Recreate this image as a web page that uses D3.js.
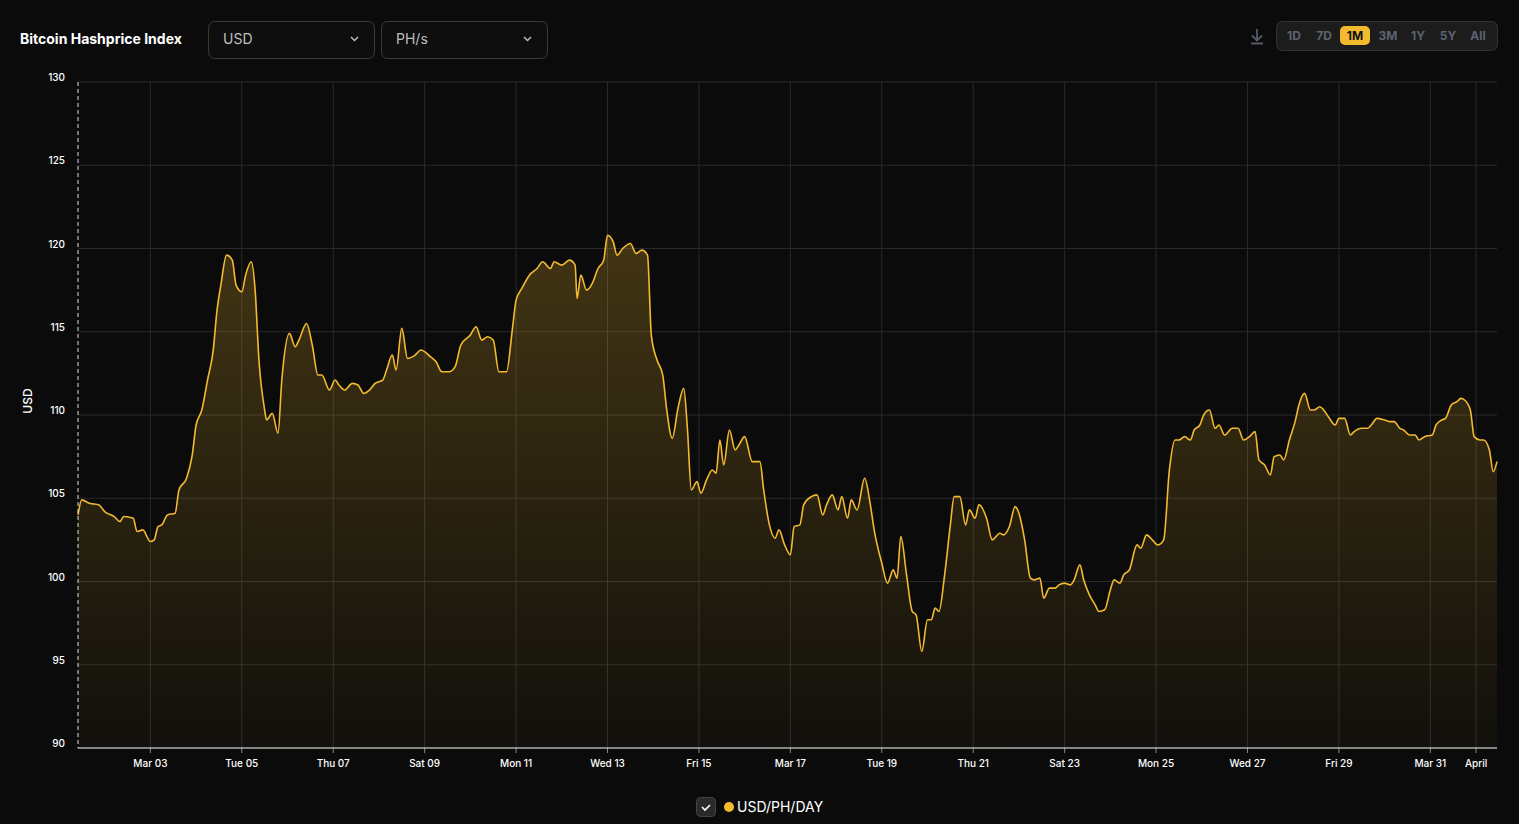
<!DOCTYPE html>
<html><head><meta charset="utf-8">
<script src="https://cdn.jsdelivr.net/npm/d3@7"></script>
<style>
body{margin:0;background:#0b0b0b;font-family:Inter,"Noto Sans",sans-serif;overflow:hidden}
</style></head><body>
<svg id="c" width="1519" height="824"></svg>
<script>
const hours=[10,12,16,21,24,29,32,34,39,41,44,48,50,52,54,57,61,63,67,70,72,75,78,81,83,85,88,91,93,96,98,101,103,105,108,109,112,115,117,121,124,126,130,133,136,138,142,145,147,150,154,157,160,163,166,170,172,175,177,180,183,187,190,195,198,201,205,208,211,216,219,222,225,228,231,235,238,240,243,247,251,254,258,260,264,268,271,272,274,277,280,283,286,288,291,293,296,300,303,306,309,311,314,317,319,322,325,328,330,332,335,337,340,343,345,347,349,352,355,357,360,364,368,370,373,376,378,381,384,386,389,391,395,398,401,403,406,409,411,414,416,419,423,426,428,432,435,438,440,442,445,448,450,453,456,458,460,462,465,468,470,473,476,478,481,483,487,490,494,496,499,502,504,507,510,512,515,517,520,523,525,528,531,533,536,538,541,544,546,549,552,554,557,559,562,566,568,571,574,577,580,583,586,588,591,594,596,599,601,604,607,609,612,616,619,622,625,628,630,633,636,638,641,643,646,649,651,654,657,659,662,664,667,670,672,675,678,680,684,687,689,692,696,699,701,704,706,709,712,714,717,721,723,726,728,731,734,736,738,741,743,746,748,751,753,755];
const values=[104.0,104.9,104.7,104.6,104.2,103.9,103.6,103.9,103.8,103.0,103.1,102.4,102.5,103.3,103.4,104.0,104.1,105.5,106.2,107.6,109.4,110.3,112.1,113.9,116.3,117.8,119.6,119.3,117.8,117.4,118.4,119.2,117.5,113.3,110.3,109.7,110.1,108.9,112.1,114.9,114.1,114.5,115.5,114.2,112.4,112.4,111.5,112.1,111.8,111.5,111.9,111.8,111.3,111.5,111.9,112.1,112.7,113.6,112.7,115.2,113.4,113.6,113.9,113.5,113.2,112.6,112.6,112.9,114.2,114.8,115.3,114.5,114.7,114.5,112.6,112.6,115.1,116.9,117.6,118.4,118.8,119.2,118.8,119.2,119.0,119.3,119.0,117.0,118.4,117.5,117.9,118.8,119.3,120.8,120.4,119.6,120.0,120.3,119.7,119.9,119.6,114.8,113.3,112.4,110.4,108.6,110.4,111.6,109.1,105.5,106.0,105.3,106.1,106.7,106.5,108.5,107.0,109.1,107.9,108.2,108.7,107.2,107.2,105.5,103.4,102.6,103.1,102.2,101.6,103.3,103.4,104.6,105.1,105.2,104.0,104.6,105.2,104.3,105.1,103.8,104.9,104.3,106.2,104.6,103.1,101.1,99.9,100.7,100.2,102.7,100.4,98.2,98.0,95.8,97.7,97.7,98.4,98.2,100.4,103.4,105.1,105.1,103.4,104.3,103.8,104.6,103.8,102.5,102.9,102.8,103.3,104.5,104.1,102.5,100.2,100.1,100.2,99.0,99.6,99.6,99.8,99.9,99.8,100.1,101.0,100.1,99.2,98.6,98.2,98.3,99.5,100.1,99.9,100.4,100.7,102.2,102.0,102.8,102.5,102.2,102.5,106.7,108.5,108.5,108.7,108.5,109.1,109.4,110.0,110.3,109.2,109.4,108.8,109.2,109.2,108.5,108.7,109.0,107.3,107.0,106.4,107.5,107.6,107.3,108.5,109.6,110.6,111.3,110.3,110.3,110.5,110.3,109.8,109.4,109.8,109.8,108.8,109.0,109.2,109.2,109.4,109.8,109.7,109.6,109.6,109.2,109.1,108.8,108.8,108.5,108.7,108.8,109.4,109.7,109.8,110.6,110.8,111.0,110.9,110.3,108.7,108.5,108.5,107.9,106.6,107.2];
const tickDates=["2024-03-03","2024-03-05","2024-03-07","2024-03-09","2024-03-11","2024-03-13","2024-03-15","2024-03-17","2024-03-19","2024-03-21","2024-03-23","2024-03-25","2024-03-27","2024-03-29","2024-03-31","2024-04-01"];
const tickLabels=["Mar 03","Tue 05","Thu 07","Sat 09","Mon 11","Wed 13","Fri 15","Mar 17","Tue 19","Thu 21","Sat 23","Mon 25","Wed 27","Fri 29","Mar 31","April"];
const yTicks=[90,95,100,105,110,115,120,125,130];
const ranges=["1D","7D","1M","3M","1Y","5Y","All"];

const t0=Date.UTC(2024,2,1);
const data=hours.map((h,i)=>({d:new Date(t0+h*3600e3),v:values[i]}));
const svg=d3.select("#c");
const L=78,R=1497,T=82,B=748;
const x=d3.scaleUtc().domain(d3.extent(data,d=>d.d)).range([L,R]);
const y=d3.scaleLinear().domain([90,130]).range([B,T]);

// header
svg.append("text").attr("x",20).attr("y",44).attr("fill","#fff").attr("font-size",14).attr("font-weight",700).text("Bitcoin Hashprice Index");
[["USD",208],["PH/s",381]].forEach(([t,x0])=>{
  svg.append("rect").attr("x",x0+.5).attr("y",21.5).attr("width",166).attr("height",37).attr("rx",6).attr("fill","#0e0e0e").attr("stroke","#3a3a3a");
  svg.append("text").attr("x",x0+15).attr("y",44).attr("fill","#bfbfbf").attr("font-size",14).text(t);
  svg.append("path").attr("d",`M${x0+143},37l3.5,3.5l3.5,-3.5`).attr("fill","none").attr("stroke","#bbb").attr("stroke-width",1.5);
});
// download icon
svg.append("path").attr("d","M1257,29v11M1252,35.5l5,5l5,-5M1251,43.5h12").attr("fill","none").attr("stroke","#555c66").attr("stroke-width",1.8);
svg.append("rect").attr("x",1276.5).attr("y",21.5).attr("width",221).attr("height",29).attr("rx",6).attr("fill","#1c1c1c").attr("stroke","#333");
const rx=[1294,1324,1355,1388,1418,1448,1478];
ranges.forEach((r,i)=>{
  if(r==="1M") svg.append("rect").attr("x",rx[i]-15).attr("y",26).attr("width",30).attr("height",19).attr("rx",5).attr("fill","#f3ba2f");
  svg.append("text").attr("x",rx[i]).attr("y",40).attr("text-anchor","middle").attr("font-size",12).attr("font-weight",700).attr("fill",r==="1M"?"#111":"#5b6270").text(r);
});

// grid
const g=svg.append("g");
yTicks.forEach(v=>{
  g.append("line").attr("x1",L).attr("x2",R).attr("y1",y(v)).attr("y2",y(v)).attr("stroke","#2a2a2a");
  g.append("text").attr("x",65).attr("y",y(v)-1).attr("text-anchor","end").attr("fill","#fff").attr("font-size",10).attr("font-weight",500).text(v);
});
tickDates.forEach((s,i)=>{
  const xx=x(new Date(s+"T00:00:00Z"));
  g.append("line").attr("x1",xx).attr("x2",xx).attr("y1",T).attr("y2",B).attr("stroke","#2a2a2a");
  g.append("line").attr("x1",xx).attr("x2",xx).attr("y1",B).attr("y2",B+5).attr("stroke","#888");
  g.append("text").attr("x",xx).attr("y",767).attr("text-anchor","middle").attr("fill","#fff").attr("font-size",10).attr("font-weight",500).text(tickLabels[i]);
});
svg.append("text").attr("transform","translate(32,401) rotate(-90)").attr("text-anchor","middle").attr("fill","#fff").attr("font-size",12).attr("font-weight",500).text("USD");

const defs=svg.append("defs");
const gr=defs.append("linearGradient").attr("id","gf").attr("x1",0).attr("x2",0).attr("y1",0).attr("y2",1);
gr.append("stop").attr("offset","0%").attr("stop-color","#f3ba2f").attr("stop-opacity",0.24);
gr.append("stop").attr("offset","100%").attr("stop-color","#f3ba2f").attr("stop-opacity",0.03);
const curve=d3.curveMonotoneX;
svg.append("path").datum(data).attr("fill","url(#gf)").attr("d",d3.area().x(d=>x(d.d)).y0(B).y1(d=>y(d.v)).curve(curve));
svg.append("path").datum(data).attr("fill","none").attr("stroke","#f3ba2f").attr("stroke-width",1.6).attr("d",d3.line().x(d=>x(d.d)).y(d=>y(d.v)).curve(curve));

// axes lines
svg.append("line").attr("x1",L).attr("x2",L).attr("y1",T).attr("y2",B).attr("stroke","#ddd").attr("stroke-dasharray","4,3");
svg.append("line").attr("x1",L).attr("x2",R).attr("y1",B).attr("y2",B).attr("stroke","#eee").attr("stroke-width",1.2);

// legend
svg.append("rect").attr("x",696.5).attr("y",797.5).attr("width",19).attr("height",19).attr("rx",4).attr("fill","#2a2a2a").attr("stroke","#444");
svg.append("path").attr("d","M702,807l3,3l5,-5").attr("fill","none").attr("stroke","#fff").attr("stroke-width",1.6);
svg.append("circle").attr("cx",729).attr("cy",807).attr("r",5).attr("fill","#f3ba2f");
svg.append("text").attr("x",737).attr("y",812).attr("fill","#fff").attr("font-size",14).text("USD/PH/DAY");
</script></body></html>
